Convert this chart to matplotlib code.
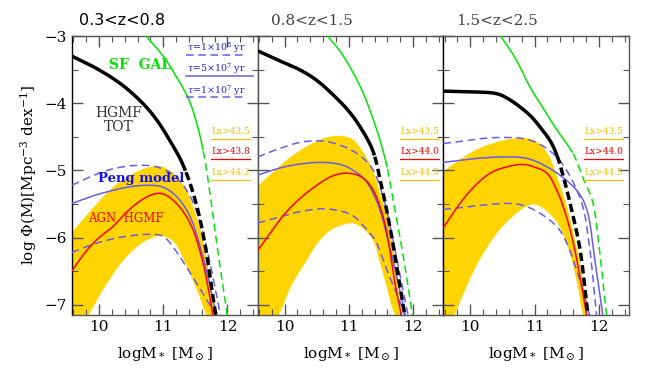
import matplotlib
matplotlib.use("Agg")
import matplotlib.pyplot as plt
import numpy as np

plt.rcParams["mathtext.fontset"] = "dejavuserif"

# ---------------- data ----------------
titles = ["0.3<z<0.8", "0.8<z<1.5", "1.5<z<2.5"]
lx_labels = [["Lx>43.5", "Lx>43.8", "Lx>44.2"],
             ["Lx>43.5", "Lx>44.0", "Lx>44.5"],
             ["Lx>43.5", "Lx>44.0", "Lx>44.5"]]
tau_labels = [r"$\tau$=1$\times$10$^8$ yr", r"$\tau$=5$\times$10$^7$ yr", r"$\tau$=1$\times$10$^7$ yr"]
xticks = [10, 11, 12]
yticks = [-3, -4, -5, -6, -7]

# HGMF TOT (black)
black_x = [[9.58, 9.9, 10.2, 10.43, 10.7, 10.9, 11.1, 11.3, 11.5, 11.65, 11.8, 11.87],
           [9.58, 9.9, 10.25, 10.5, 10.76, 11.0, 11.18, 11.37, 11.5, 11.65, 11.85, 11.9],
           [9.58, 10.0, 10.42, 10.6, 10.78, 10.95, 11.09, 11.25, 11.35, 11.45, 11.6, 11.71, 11.83, 11.86]]
black_y = [[-3.30, -3.45, -3.62, -3.78, -4.02, -4.25, -4.55, -4.90, -5.45, -6.10, -7.04, -7.4],
           [-3.22, -3.36, -3.51, -3.66, -3.88, -4.12, -4.36, -4.70, -5.20, -5.90, -7.04, -7.3],
           [-3.82, -3.83, -3.86, -3.94, -4.06, -4.20, -4.36, -4.57, -4.78, -5.10, -5.68, -6.19, -7.13, -7.3]]
black_split = [11.35, 11.4, 11.35]

# SF GAL (green)
green_x = [[10.73, 11.0, 11.2, 11.4, 11.55, 11.65, 11.75, 11.85, 11.95, 12.02],
           [10.67, 10.9, 11.18, 11.4, 11.57, 11.7, 11.85, 11.99, 12.03],
           [10.47, 10.7, 10.93, 11.15, 11.35, 11.6, 11.75, 11.9, 12.0, 12.12, 12.15]]
green_y = [[-3.0, -3.3, -3.6, -3.95, -4.4, -4.85, -5.5, -6.2, -6.85, -7.3],
           [-3.0, -3.28, -3.76, -4.3, -4.85, -5.5, -6.3, -7.15, -7.4],
           [-3.0, -3.33, -3.76, -4.1, -4.4, -4.75, -5.1, -5.45, -6.1, -7.13, -7.3]]
green_split = [11.62, 11.6, 11.6]

# AGN HGMF uncertainty band (gold)
band_up_x = [[9.58, 9.9, 10.2, 10.5, 10.75, 10.95, 11.1, 11.3, 11.5, 11.65, 11.8],
             [9.58, 9.83, 10.1, 10.4, 10.65, 10.87, 11.05, 11.2, 11.37, 11.5, 11.61, 11.72, 11.8],
             [9.58, 9.8, 10.05, 10.4, 10.78, 11.0, 11.2, 11.35, 11.5, 11.6, 11.72, 11.82]]
band_up_y = [[-5.9, -5.55, -5.25, -5.05, -4.95, -4.93, -5.0, -5.2, -5.65, -6.2, -7.2],
             [-5.22, -5.0, -4.78, -4.6, -4.5, -4.48, -4.53, -4.7, -5.0, -5.4, -5.75, -6.4, -7.2],
             [-5.0, -4.85, -4.7, -4.57, -4.51, -4.55, -4.75, -5.1, -5.55, -5.94, -6.5, -7.2]]
band_lo_x = [[9.58, 9.83, 10.1, 10.4, 10.7, 10.95, 11.15, 11.35, 11.55, 11.68, 11.8],
             [9.58, 9.9, 10.1, 10.33, 10.5, 10.68, 10.9, 11.06, 11.2, 11.37, 11.47, 11.57, 11.72, 11.8],
             [9.58, 9.74, 10.15, 10.57, 10.98, 11.29, 11.5, 11.66, 11.75, 11.82]]
band_lo_y = [[-7.6, -7.15, -6.7, -6.3, -6.05, -5.97, -6.05, -6.4, -6.85, -7.15, -7.2],
             [-7.7, -7.15, -6.7, -6.34, -6.08, -5.9, -5.8, -5.78, -5.85, -6.04, -6.35, -6.69, -7.15, -7.2],
             [-7.5, -7.15, -6.3, -5.75, -5.5, -5.7, -6.1, -6.69, -7.13, -7.2]]

# AGN HGMF (red)
red_x = [[9.58, 9.8, 10.0, 10.2, 10.4, 10.6, 10.8, 10.95, 11.1, 11.3, 11.45, 11.6, 11.7, 11.8],
         [9.58, 9.8, 9.98, 10.2, 10.5, 10.75, 10.98, 11.2, 11.37, 11.55, 11.72, 11.85],
         [9.58, 9.84, 10.05, 10.31, 10.55, 10.82, 11.0, 11.19, 11.35, 11.5, 11.62, 11.71, 11.82]]
red_y = [[-6.49, -6.2, -6.0, -5.85, -5.65, -5.48, -5.37, -5.34, -5.4, -5.6, -5.85, -6.3, -6.75, -7.3],
         [-6.19, -5.9, -5.67, -5.45, -5.22, -5.08, -5.04, -5.1, -5.28, -5.75, -6.69, -7.3],
         [-5.85, -5.49, -5.25, -5.04, -4.95, -4.91, -4.95, -5.04, -5.3, -5.7, -6.15, -6.6, -7.2]]

# Peng model tau=5e7 (blue solid)
peng_x = [[9.58, 9.9, 10.2, 10.5, 10.8, 11.0, 11.2, 11.4, 11.55, 11.7, 11.85],
          [9.58, 9.9, 10.2, 10.59, 10.9, 11.1, 11.26, 11.45, 11.61, 11.75, 11.9],
          [9.58, 10.0, 10.47, 10.88, 11.2, 11.5, 11.7, 11.82, 11.94, 12.07]]
peng_y = [[-5.49, -5.38, -5.3, -5.24, -5.22, -5.25, -5.38, -5.65, -6.05, -6.6, -7.25],
          [-5.07, -4.97, -4.91, -4.88, -4.92, -5.02, -5.15, -5.5, -6.04, -6.6, -7.25],
          [-4.88, -4.83, -4.8, -4.82, -4.95, -5.15, -5.35, -5.6, -6.34, -7.2]]

# Peng model tau=1e8 (blue dashed, upper)
pengup_x = [[9.58, 9.9, 10.2, 10.5, 10.8, 11.0, 11.2, 11.4, 11.55, 11.7, 11.9],
            [9.58, 9.9, 10.25, 10.5, 10.71, 10.98, 11.2, 11.38, 11.55, 11.7, 11.93],
            [9.58, 10.42, 10.93, 11.29, 11.5, 11.74, 11.85, 11.97]]
pengup_y = [[-5.22, -5.08, -4.98, -4.93, -4.93, -4.98, -5.1, -5.35, -5.7, -6.25, -7.2],
            [-4.8, -4.68, -4.58, -4.56, -4.58, -4.67, -4.8, -5.0, -5.45, -6.1, -7.2],
            [-4.6, -4.51, -4.55, -4.75, -5.0, -5.5, -6.1, -7.2]]

# Peng model tau=1e7 (blue dashed, lower)
penglo_x = [[9.58, 9.9, 10.2, 10.5, 10.8, 11.0, 11.2, 11.37, 11.6, 11.85],
            [9.58, 9.9, 10.2, 10.59, 10.85, 11.06, 11.25, 11.41, 11.6, 11.83, 11.88],
            [9.58, 10.57, 10.82, 11.09, 11.4, 11.71, 11.87]]
penglo_y = [[-6.22, -6.1, -6.02, -5.97, -5.95, -5.98, -6.2, -6.45, -6.8, -7.2],
            [-5.78, -5.7, -5.62, -5.57, -5.6, -5.67, -5.85, -6.04, -6.5, -7.04, -7.2],
            [-5.58, -5.49, -5.52, -5.64, -5.9, -6.64, -7.2]]

# ---------------- style ----------------
GOLD = "#FFD400"
GOLD_TXT = "#F2C200"
RED = "#FF0000"
BLUE = "#6A5CE8"
GREEN = "#00E600"
SPINE = "#555555"
XLIM = (9.58, 12.47)
YLIM = (-7.15, -3.0)
DASH = (0, (5, 3))
BLACK_DASH = (0, (2.4, 1.2))


def smooth(xs, ys, n=24):
    """Centripetal Catmull-Rom curve through the given points."""
    P = np.column_stack([xs, ys]).astype(float)
    P = np.vstack([2 * P[0] - P[1], P, 2 * P[-1] - P[-2]])
    out = []
    for i in range(1, len(P) - 2):
        p0, p1, p2, p3 = P[i - 1], P[i], P[i + 1], P[i + 2]
        def tj(ti, a, b):
            return ti + np.sqrt(np.linalg.norm(b - a)) + 1e-9
        t0 = 0.0
        t1 = tj(t0, p0, p1)
        t2 = tj(t1, p1, p2)
        t3 = tj(t2, p2, p3)
        t = np.linspace(t1, t2, n, endpoint=False)[:, None]
        A1 = (t1 - t) / (t1 - t0) * p0 + (t - t0) / (t1 - t0) * p1
        A2 = (t2 - t) / (t2 - t1) * p1 + (t - t1) / (t2 - t1) * p2
        A3 = (t3 - t) / (t3 - t2) * p2 + (t - t2) / (t3 - t2) * p3
        B1 = (t2 - t) / (t2 - t0) * A1 + (t - t0) / (t2 - t0) * A2
        B2 = (t3 - t) / (t3 - t1) * A2 + (t - t1) / (t3 - t1) * A3
        C = (t2 - t) / (t2 - t1) * B1 + (t - t1) / (t2 - t1) * B2
        out.append(C)
    out.append(P[-2][None, :])
    C = np.vstack(out)
    return C[:, 0], C[:, 1]


fig = plt.figure(figsize=(6.64, 3.68), dpi=100)
W = 664.0
H = 368.0
left0 = 72
pw = (629 - 72) / 3.0
axes = []
for i in range(3):
    ax = fig.add_axes([(left0 + i * pw) / W, 53 / H, pw / W, 279 / H])
    axes.append(ax)

serif = ["DejaVu Serif"]


def split_plot(ax, xs, ys, xsplit, color, lw, dash):
    xd, yd = smooth(xs, ys)
    m1 = xd <= xsplit
    m2 = xd >= xsplit
    ax.plot(xd[m1], yd[m1], color=color, lw=lw, solid_capstyle="butt", zorder=5)
    ax.plot(xd[m2], yd[m2], color=color, lw=lw, linestyle=dash, zorder=5)


for i, ax in enumerate(axes):
    # band
    ux, uy = smooth(band_up_x[i], band_up_y[i])
    lx, ly = smooth(band_lo_x[i], band_lo_y[i])
    xx = np.linspace(XLIM[0], 11.85, 500)
    up = np.interp(xx, ux, uy)
    lo = np.interp(xx, lx, ly)
    ax.fill_between(xx, lo, np.maximum(up, lo), color=GOLD, lw=0, zorder=1)
    # blue
    ax.plot(*smooth(peng_x[i], peng_y[i]), color=BLUE, lw=1.1, zorder=3)
    ax.plot(*smooth(pengup_x[i], pengup_y[i]), color=BLUE, lw=1.1, linestyle=DASH, zorder=3)
    ax.plot(*smooth(penglo_x[i], penglo_y[i]), color=BLUE, lw=1.1, linestyle=DASH, zorder=3)
    # red
    ax.plot(*smooth(red_x[i], red_y[i]), color=RED, lw=1.1, zorder=4)
    # green and black
    split_plot(ax, green_x[i], green_y[i], green_split[i], GREEN, 1.1, DASH)
    split_plot(ax, black_x[i], black_y[i], black_split[i], "black", 2.5, BLACK_DASH)

    ax.set_xlim(*XLIM)
    ax.set_ylim(*YLIM)
    ax.set_xticks(xticks)
    ax.set_xticks(np.arange(9.6, 12.5, 0.2), minor=True)
    ax.set_yticks(yticks)
    ax.set_yticks(np.arange(-7.0, -2.9, 0.5), minor=True)
    ax.tick_params(which="both", direction="in", top=True, right=True, colors=SPINE,
                   labelcolor="black", labelsize=11)
    ax.tick_params(which="major", length=8, width=1.0)
    ax.tick_params(which="minor", length=4, width=0.8)
    ax.set_xticklabels([str(v) for v in xticks], family=serif)
    if i == 0:
        ax.set_yticklabels(["\u22123", "\u22124", "\u22125", "\u22126", "\u22127"], family=serif)
    else:
        ax.set_yticklabels([])
    for s in ax.spines.values():
        s.set_color(SPINE)
        s.set_linewidth(1.0)
    ax.set_xlabel(r"logM$_*$ [M$_\odot$]", fontsize=11, family=serif, labelpad=8)

    # Lx labels
    lx_x = [11.75, 11.8, 11.78][i]
    lx_cols = [GOLD_TXT, RED, GOLD_TXT]
    for k, (lab, yy) in enumerate(zip(lx_labels[i], [-4.42, -4.72, -5.03])):
        ax.text(lx_x, yy, lab, color=lx_cols[k], fontsize=6.5, family=serif,
                ha="left", va="center", zorder=6)
        ax.plot([lx_x - 0.01, lx_x + 0.6], [yy - 0.11, yy - 0.11], color=lx_cols[k], lw=0.9, zorder=6)

axes[0].spines["left"].set_color("black")
axes[2].spines["left"].set_color("black")
axes[0].set_ylabel(r"log $\Phi$(M)[Mpc$^{-3}$ dex$^{-1}$]", fontsize=11, family=serif, labelpad=4)

# titles
axes[0].text(0.04, 1.03, titles[0], transform=axes[0].transAxes, fontsize=11.5,
             color="black", ha="left", va="bottom")
for i in (1, 2):
    axes[i].text(0.07, 1.03, titles[i], transform=axes[i].transAxes, fontsize=11,
                 color="#444444", family=serif, ha="left", va="bottom")

# panel-1 annotations
a0 = axes[0]
a0.text(10.64, -3.43, "SF  GAL", color=GREEN, fontsize=10, fontweight="bold", family=serif,
        ha="center", va="center", zorder=7)
a0.text(10.31, -4.25, "HGMF\nTOT", color="#333333", fontsize=10, family=serif,
        ha="center", va="center", linespacing=0.95, zorder=7)
a0.text(10.66, -5.12, "Peng model", color="#1010FF", fontsize=9.5, fontweight="bold", family=serif,
        ha="center", va="center", zorder=7)
a0.text(10.42, -5.72, "AGN  HGMF", color=RED, fontsize=8.5, family=serif,
        ha="center", va="center", zorder=7)

tau_y = [-3.18, -3.49, -3.81]
tau_ls = [DASH, "-", DASH]
tau_end = [12.31, 12.39, 12.31]
for lab, yy, ls, xe in zip(tau_labels, tau_y, tau_ls, tau_end):
    a0.text(11.37, yy, lab, color="#2020F0", fontsize=6.8, family=serif, ha="left", va="center", zorder=7)
    a0.plot([11.35, xe], [yy - 0.1, yy - 0.1], color=BLUE, lw=1.1, linestyle=ls, zorder=7)

fig.savefig("out.png", dpi=100)
